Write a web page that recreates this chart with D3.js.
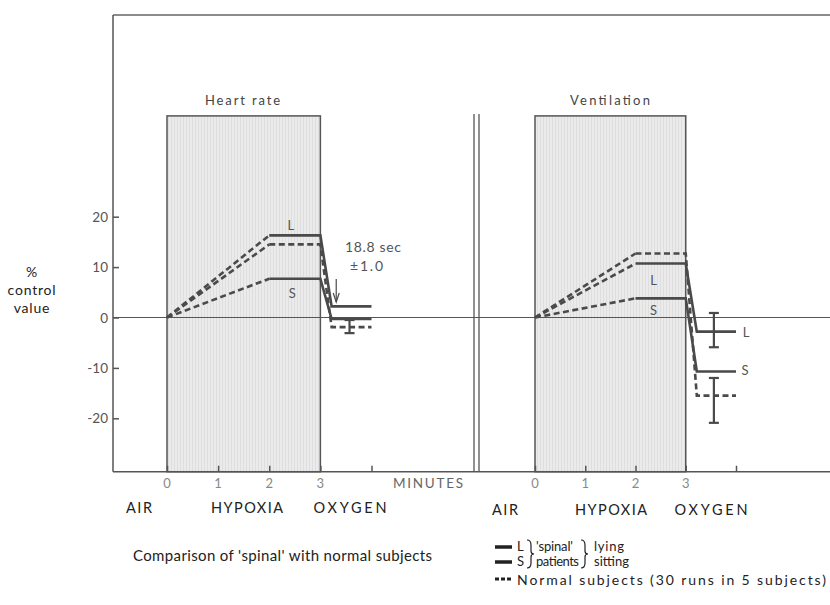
<!DOCTYPE html>
<html>
<head>
<meta charset="utf-8">
<script src="https://cdn.jsdelivr.net/npm/d3@7"></script>
<style>
  body { margin: 0; background: #fff; }
  text { font-family: Lato, "Noto Sans", sans-serif; }
</style>
</head>
<body>
<svg id="chart" width="830" height="605"></svg>
<script>
// time points (minutes): start, end of rise, end of hypoxia, after drop, end
times = [0, 2, 3, 3.22, 4]

// heart rate, % control value
heart_L = [0, 16.3, 16.3, 2.2, 2.2]
heart_S = [0, 7.7, 7.7, -0.3, -0.3]
heart_N = [0, 14.5, 14.5, -1.9, -1.9]
heart_err = [{t: 3.57, lo: -3.1, hi: -0.5}]

// ventilation, % control value
vent_L = [0, 10.7, 10.7, -2.8, -2.8]
vent_S = [0, 3.8, 3.8, -10.7, -10.7]
vent_N = [0, 12.7, 12.7, -15.5, -15.5]
vent_err = [{t: 3.56, lo: -5.9, hi: 0.9}, {t: 3.56, lo: -20.9, hi: -12}]

y_ticks = [20, 10, 0, -10, -20]
x_ticks = [0, 1, 2, 3, 4]
x_tick_labels = ['0', '1', '2', '3', '']
phase_labels = ['AIR', 'HYPOXIA', 'OXYGEN']

line_col = '#4a4a4a'

svg = d3.select('#chart')

var yScale = d3.scaleLinear().domain([-20, 20]).range([418.3, 216.7])
var xHeart = d3.scaleLinear().domain([0, 4]).range([167, 371.5])
var xVent = d3.scaleLinear().domain([0, 4]).range([535, 736])

var axis_left = 113
var axis_bottom = yScale(-30.6)
var frame_top = yScale(60)
var box_top = yScale(40)

// stipple pattern for hypoxia boxes
var defs = svg.append('defs')
var pat = defs.append('pattern').attr('id', 'stip')
    .attr('width', 3).attr('height', 3).attr('patternUnits', 'userSpaceOnUse')
pat.append('rect').attr('width', 3).attr('height', 3).attr('fill', '#ebebeb')
pat.append('rect').attr('width', 1).attr('height', 3).attr('fill', '#dedede')

// hypoxia boxes
;[xHeart, xVent].forEach(function (xs) {
    svg.append('rect')
        .attr('x', xs(0)).attr('y', box_top)
        .attr('width', xs(3) - xs(0)).attr('height', axis_bottom - box_top)
        .attr('fill', 'url(#stip)')
        .attr('stroke', '#555').attr('stroke-width', 1.5)
})

// frame: top line, left axis, bottom axis
svg.append('line').attr('x1', axis_left).attr('x2', 830).attr('y1', frame_top).attr('y2', frame_top)
    .attr('stroke', '#666').attr('stroke-width', 1.5)
svg.append('line').attr('x1', axis_left).attr('x2', axis_left).attr('y1', frame_top).attr('y2', axis_bottom)
    .attr('stroke', '#555').attr('stroke-width', 1.5)
svg.append('line').attr('x1', axis_left).attr('x2', 830).attr('y1', axis_bottom).attr('y2', axis_bottom)
    .attr('stroke', '#555').attr('stroke-width', 1.5)
// zero line
svg.append('line').attr('x1', axis_left).attr('x2', 830).attr('y1', yScale(0)).attr('y2', yScale(0))
    .attr('stroke', '#555').attr('stroke-width', 1.2)

// double separator
;[474, 479].forEach(function (x) {
    svg.append('line').attr('x1', x).attr('x2', x).attr('y1', box_top - 2).attr('y2', axis_bottom)
        .attr('stroke', '#555').attr('stroke-width', 1.3)
})

// y axis ticks + labels
var yAxis = d3.axisRight(yScale).tickValues(y_ticks).tickSize(6).tickFormat('')
svg.append('g').attr('transform', 'translate(' + axis_left + ',0)').call(yAxis)
    .call(g => g.select('.domain').remove())
    .call(g => g.selectAll('line').attr('stroke', '#555').attr('stroke-width', 1.5))
svg.selectAll('.ylab').data(y_ticks).enter().append('text')
    .attr('class', 'ylab')
    .attr('x', axis_left - 5).attr('y', d => yScale(d) + 5)
    .attr('text-anchor', 'end').attr('font-size', 13.5).attr('fill', '#555')
    .text(d => d < 0 ? '-' + Math.abs(d) : d)

// x axis ticks + labels per panel
;[xHeart, xVent].forEach(function (xs) {
    var xAxis = d3.axisTop(xs).tickValues(x_ticks).tickSize(6).tickFormat('')
    svg.append('g').attr('transform', 'translate(0,' + axis_bottom + ')').call(xAxis)
        .call(g => g.select('.domain').remove())
        .call(g => g.selectAll('line').attr('stroke', '#555').attr('stroke-width', 1.5))
    svg.append('g').selectAll('text').data(x_ticks).enter().append('text')
        .attr('x', d => xs(d)).attr('y', axis_bottom + 16)
        .attr('text-anchor', 'middle').attr('font-size', 13).attr('fill', '#888')
        .text((d, i) => x_tick_labels[i])
})

svg.append('text').attr('x', 393).attr('y', axis_bottom + 16)
    .attr('font-size', 13.5).attr('fill', '#666').attr('textLength', 70).attr('lengthAdjust', 'spacing')
    .text('MINUTES')

// phase labels
var phase_x = [[139, 247, 350], [505, 611, 711]]
var phase_w = [26, 72, 73]
phase_x.forEach(function (xs, p) {
    svg.append('g').selectAll('text').data(phase_labels).enter().append('text')
        .attr('x', (d, i) => xs[i] - phase_w[i] / 2).attr('y', 513 + p * 2)
        .attr('font-size', 14.5).attr('fill', '#222')
        .attr('textLength', (d, i) => phase_w[i]).attr('lengthAdjust', 'spacing')
        .text(d => d)
})

// y title
;['%', 'control', 'value'].forEach(function (t, i) {
    svg.append('text').attr('x', 32).attr('y', 277 + i * 18)
        .attr('text-anchor', 'middle').attr('font-size', 14).attr('fill', '#222')
        .attr('letter-spacing', 0.8).text(t)
})

// panel titles
svg.append('text').attr('x', 205).attr('y', 105)
    .attr('font-size', 13).attr('fill', '#444').attr('textLength', 75).attr('lengthAdjust', 'spacing')
    .text('Heart rate')
svg.append('text').attr('x', 570).attr('y', 105)
    .attr('font-size', 13).attr('fill', '#444').attr('textLength', 80).attr('lengthAdjust', 'spacing')
    .text('Ventilation')

// series: rise always dashed, rest solid for patients / dashed for normals
function drawSeries(xs, vals, normal) {
    var pts = times.map((t, i) => [xs(t), yScale(vals[i])])
    var line = d3.line()
    svg.append('path').attr('d', line(pts.slice(0, 2)))
        .attr('fill', 'none').attr('stroke', line_col).attr('stroke-width', 2.6)
        .attr('stroke-dasharray', '6,3.5')
    svg.append('path').attr('d', line(pts.slice(1)))
        .attr('fill', 'none').attr('stroke', line_col).attr('stroke-width', 2.6)
        .attr('stroke-dasharray', normal ? '6,3.5' : null)
}
drawSeries(xHeart, heart_N, true)
drawSeries(xHeart, heart_L, false)
drawSeries(xHeart, heart_S, false)
drawSeries(xVent, vent_N, true)
drawSeries(xVent, vent_L, false)
drawSeries(xVent, vent_S, false)

function drawErr(xs, errs) {
    errs.forEach(function (e) {
        var x = xs(e.t)
        svg.append('line').attr('x1', x).attr('x2', x).attr('y1', yScale(e.lo)).attr('y2', yScale(e.hi))
            .attr('stroke', line_col).attr('stroke-width', 2.2)
        ;[e.lo, e.hi].forEach(function (v) {
            svg.append('line').attr('x1', x - 5).attr('x2', x + 5).attr('y1', yScale(v)).attr('y2', yScale(v))
                .attr('stroke', line_col).attr('stroke-width', 2.2)
        })
    })
}
drawErr(xHeart, heart_err)
drawErr(xVent, vent_err)

// L / S labels
var lab = [
    [xHeart(2.42), yScale(17.4), 'L'], [xHeart(2.45), yScale(3.9), 'S'],
    [xVent(2.36), yScale(6.5), 'L'], [xVent(2.36), yScale(0.5), 'S'],
    [xVent(4.2), yScale(-3.9), 'L'], [xVent(4.18), yScale(-11.5), 'S']
]
svg.selectAll('.ls').data(lab).enter().append('text').attr('class', 'ls')
    .attr('x', d => d[0]).attr('y', d => d[1]).attr('text-anchor', 'middle')
    .attr('font-size', 13).attr('fill', '#555').text(d => d[2])

// latency annotation
svg.append('text').attr('x', 345).attr('y', 252).attr('font-size', 14).attr('fill', '#555')
    .attr('textLength', 56).attr('lengthAdjust', 'spacing').text('18.8 sec')
svg.append('text').attr('x', 350).attr('y', 271).attr('font-size', 14).attr('fill', '#555')
    .attr('textLength', 33).attr('lengthAdjust', 'spacing').text('±1.0')
var ax = xHeart(3.31)
svg.append('line').attr('x1', ax).attr('x2', ax).attr('y1', 279).attr('y2', 302)
    .attr('stroke', line_col).attr('stroke-width', 1.2)
svg.append('path').attr('d', 'M' + (ax - 3) + ',293 L' + ax + ',302 L' + (ax + 3) + ',293')
    .attr('fill', 'none').attr('stroke', line_col).attr('stroke-width', 1.2)

// caption and legend
svg.append('text').attr('x', 133).attr('y', 561).attr('font-size', 15).attr('fill', '#222')
    .attr('textLength', 299).attr('lengthAdjust', 'spacing')
    .text("Comparison of 'spinal' with normal subjects")

;[547, 562].forEach(function (y) {
    svg.append('line').attr('x1', 495).attr('x2', 512).attr('y1', y).attr('y2', y)
        .attr('stroke', '#222').attr('stroke-width', 3.5)
})
svg.append('line').attr('x1', 495).attr('x2', 513).attr('y1', 579).attr('y2', 579)
    .attr('stroke', '#222').attr('stroke-width', 3).attr('stroke-dasharray', '4,2')

function brace(x, y0, y1) {
    var ym = (y0 + y1) / 2
    return 'M' + x + ',' + y0 + ' Q' + (x + 4) + ',' + y0 + ' ' + (x + 4) + ',' + (y0 + 5) +
        ' L' + (x + 4) + ',' + (ym - 3) + ' Q' + (x + 4) + ',' + ym + ' ' + (x + 7) + ',' + ym +
        ' Q' + (x + 4) + ',' + ym + ' ' + (x + 4) + ',' + (ym + 3) +
        ' L' + (x + 4) + ',' + (y1 - 5) + ' Q' + (x + 4) + ',' + y1 + ' ' + x + ',' + y1
}
svg.append('path').attr('d', brace(527, 540, 568)).attr('fill', 'none').attr('stroke', '#222').attr('stroke-width', 1.2)
svg.append('path').attr('d', brace(581, 540, 568)).attr('fill', 'none').attr('stroke', '#222').attr('stroke-width', 1.2)

var legend_txt = [
    [517, 551, 'L', 0], [517, 566, 'S', 0],
    [536, 551, "'spinal'", 37], [536, 566, 'patients', 43],
    [594, 551, 'lying', 30], [594, 566, 'sitting', 35],
    [517, 585, 'Normal subjects (30 runs in 5 subjects)', 309]
]
svg.selectAll('.lg').data(legend_txt).enter().append('text').attr('class', 'lg')
    .attr('x', d => d[0]).attr('y', d => d[1])
    .attr('font-size', d => d[3] > 100 ? 14 : 13).attr('fill', '#222')
    .attr('textLength', d => d[3] || null).attr('lengthAdjust', 'spacing')
    .text(d => d[2])
</script>
</body>
</html>
